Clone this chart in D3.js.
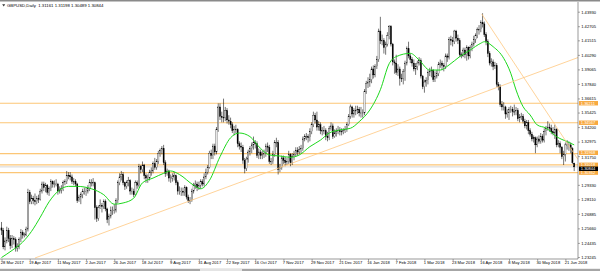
<!DOCTYPE html>
<html>
<head>
<meta charset="utf-8">
<script src="https://cdn.jsdelivr.net/npm/d3@7"></script>
<style>
  body { margin: 0; background: #fff; }
  svg { display: block; }
  text { font-family: "Liberation Sans", Arial, sans-serif; }
</style>
</head>
<body>
<div id="chart"></div>
<script>
const TITLE = "GBPUSD,Daily  1.31161 1.31198 1.30489 1.30844";

// x axis: one label every 16 daily bars
const dateLabels = ["28 Mar 2017", "19 Apr 2017", "11 May 2017", "2 Jun 2017", "26 Jun 2017", "18 Jul 2017",
  "9 Aug 2017", "31 Aug 2017", "22 Sep 2017", "16 Oct 2017", "7 Nov 2017", "29 Nov 2017", "21 Dec 2017",
  "16 Jan 2018", "7 Feb 2018", "1 Mar 2018", "23 Mar 2018", "16 Apr 2018", "8 May 2018", "30 May 2018", "21 Jun 2018"];
const dateLabelBars = [0, 16, 32, 48, 64, 80, 96, 112, 128, 144, 160, 176, 192, 208, 224, 240, 256, 272, 288, 304, 320];

// (1.30560 sits under the price tags, so it is not listed)
const priceTicks = [1.43930, 1.42705, 1.41515, 1.40290, 1.39065, 1.37840, 1.36615, 1.35425, 1.34200,
  1.32975, 1.31750, 1.29330, 1.28110, 1.26885, 1.25660, 1.24435, 1.23245];

// daily candles, 28 Mar 2017 .. 28 Jun 2018
const opens = [
  1.257,1.255,1.241,1.246,1.255,1.248,1.242,1.248,1.247,1.240,1.241,1.247,1.253,1.251,1.251,1.256,
  1.287,1.279,1.282,1.280,1.279,1.282,1.281,1.288,1.294,1.291,1.293,1.287,1.290,1.296,1.294,1.294,1.294,1.288,1.289,1.290,1.295,1.296,
  1.301,1.301,1.300,1.296,1.296,1.294,1.280,1.283,1.285,1.288,1.288,1.288,1.290,1.295,1.295,1.295,1.274,1.265,1.274,1.276,1.275,1.279,1.273,1.264,
  1.267,1.272,1.272,1.272,1.280,1.295,1.300,1.302,1.295,1.292,1.295,1.297,1.288,1.288,1.285,1.295,1.293,1.309,1.306,
  1.310,1.301,1.299,1.299,1.304,1.305,1.311,1.308,1.313,1.320,1.322,1.324,1.312,1.303,1.305,1.299,1.299,1.300,1.301,1.295,1.288,1.288,1.288,1.287,1.291,1.283,1.280,1.280,1.288,1.293,1.294,1.291,
  1.293,1.296,1.294,1.300,1.304,1.308,1.320,1.318,1.326,1.321,1.340,1.359,1.351,1.350,1.350,1.356,
  1.348,1.347,1.344,1.339,1.340,1.340,1.328,1.326,1.325,1.314,1.307,1.315,1.321,1.324,1.327,1.329,1.328,1.318,1.321,1.318,1.319,1.320,1.326,1.325,1.313,1.313,1.319,1.329,1.329,
  1.306,1.308,1.316,1.314,1.312,1.313,1.319,1.312,1.317,1.319,1.322,1.321,1.323,1.324,1.332,1.334,1.334,1.333,1.338,1.344,1.352,1.348,1.342,1.344,1.339,1.339,1.339,1.334,1.333,1.341,1.343,1.334,1.337,1.338,1.339,
  1.338,1.338,1.339,1.340,1.344,1.351,1.359,1.353,1.356,1.356,1.357,1.354,1.354,1.354,1.372,1.379,1.380,1.382,1.391,1.386,1.393,1.399,1.423,1.415,
  1.415,1.409,1.412,1.419,1.427,1.412,1.397,1.396,1.388,1.391,1.383,1.383,1.389,1.396,1.408,1.402,1.399,1.396,1.391,1.393,1.396,1.398,1.385,1.376,
  1.380,1.381,1.388,1.389,1.390,1.382,1.385,1.387,1.395,1.396,1.394,1.393,1.402,1.401,1.416,1.415,1.414,1.423,1.417,1.415,1.403,1.402,1.407,1.403,1.409,1.402,1.409,1.412,1.416,1.419,1.424,1.424,
  1.430,1.429,1.420,1.414,1.404,1.396,1.397,1.393,1.394,1.378,1.376,1.361,1.359,1.359,1.353,1.354,1.357,1.357,1.355,1.355,1.356,1.349,1.350,1.351,1.347,1.343,1.346,1.339,1.336,1.332,1.333,1.327,
  1.332,1.330,1.334,1.331,1.338,1.341,1.342,1.341,1.338,1.337,1.340,1.327,1.328,1.325,1.317,1.319,1.327,1.327,1.327,1.324,1.31161
];
const highs = [
  1.262,1.257,1.249,1.258,1.257,1.251,1.251,1.250,1.249,1.244,1.249,1.256,1.255,1.253,1.258,1.290,
  1.289,1.285,1.284,1.286,1.284,1.285,1.290,1.296,1.296,1.295,1.294,1.292,1.298,1.297,1.297,1.298,1.295,1.292,1.293,1.297,1.298,1.305,
  1.304,1.304,1.302,1.299,1.298,1.295,1.285,1.287,1.290,1.291,1.291,1.293,1.298,1.298,1.299,1.296,1.276,1.276,1.281,1.278,1.281,1.281,1.274,1.269,
  1.275,1.275,1.277,1.282,1.297,1.303,1.305,1.304,1.296,1.297,1.300,1.298,1.291,1.290,1.297,1.297,1.311,1.310,1.313,
  1.311,1.303,1.302,1.306,1.308,1.313,1.316,1.315,1.322,1.324,1.326,1.327,1.314,1.307,1.306,1.302,1.303,1.304,1.302,1.297,1.292,1.291,1.291,1.293,1.292,1.285,1.283,1.290,1.295,1.297,1.296,1.296,
  1.298,1.298,1.303,1.307,1.310,1.322,1.323,1.328,1.328,1.342,1.362,1.362,1.355,1.366,1.359,1.358,
  1.352,1.350,1.346,1.343,1.344,1.341,1.330,1.329,1.327,1.316,1.317,1.323,1.326,1.329,1.334,1.331,1.330,1.324,1.323,1.322,1.323,1.328,1.329,1.327,1.316,1.322,1.331,1.333,1.331,
  1.311,1.318,1.318,1.317,1.316,1.322,1.320,1.320,1.322,1.325,1.325,1.326,1.327,1.334,1.336,1.337,1.336,1.341,1.346,1.355,1.354,1.355,1.347,1.346,1.342,1.343,1.341,1.338,1.343,1.346,1.345,1.340,1.341,1.343,1.342,
  1.341,1.341,1.343,1.346,1.353,1.361,1.360,1.358,1.360,1.360,1.359,1.359,1.357,1.374,1.381,1.384,1.387,1.393,1.394,1.395,1.402,1.425,1.435,1.420,
  1.417,1.414,1.422,1.428,1.428,1.413,1.399,1.403,1.395,1.393,1.387,1.391,1.398,1.410,1.414,1.404,1.401,1.399,1.396,1.398,1.401,1.400,1.386,1.382,
  1.384,1.390,1.392,1.393,1.391,1.389,1.390,1.397,1.399,1.398,1.396,1.404,1.404,1.418,1.419,1.418,1.424,1.424,1.420,1.417,1.405,1.409,1.409,1.411,1.410,1.411,1.414,1.419,1.421,1.426,1.428,1.432,
  1.438,1.431,1.422,1.416,1.406,1.400,1.399,1.397,1.396,1.380,1.378,1.364,1.363,1.360,1.357,1.359,1.360,1.359,1.361,1.359,1.358,1.353,1.354,1.353,1.349,1.348,1.348,1.341,1.338,1.335,1.334,1.334,
  1.335,1.337,1.336,1.341,1.343,1.347,1.345,1.344,1.342,1.344,1.341,1.331,1.330,1.326,1.322,1.329,1.331,1.330,1.329,1.325,1.31198
];
const lows = [
  1.251,1.239,1.238,1.244,1.245,1.239,1.240,1.243,1.237,1.237,1.239,1.245,1.248,1.249,1.250,1.254,
  1.277,1.277,1.277,1.276,1.277,1.278,1.280,1.286,1.288,1.287,1.285,1.284,1.288,1.291,1.291,1.292,1.285,1.286,1.286,1.288,1.293,1.294,
  1.298,1.297,1.294,1.293,1.292,1.278,1.279,1.277,1.282,1.285,1.284,1.286,1.288,1.292,1.292,1.264,1.262,1.263,1.273,1.270,1.273,1.271,1.261,1.259,
  1.265,1.268,1.269,1.270,1.278,1.293,1.297,1.293,1.289,1.290,1.292,1.285,1.285,1.283,1.284,1.290,1.291,1.303,1.304,
  1.298,1.295,1.295,1.297,1.301,1.303,1.306,1.306,1.311,1.317,1.319,1.310,1.300,1.301,1.296,1.295,1.296,1.297,1.293,1.285,1.285,1.284,1.284,1.284,1.281,1.278,1.277,1.279,1.286,1.290,1.288,1.289,
  1.290,1.292,1.292,1.298,1.302,1.307,1.315,1.315,1.318,1.319,1.338,1.348,1.346,1.346,1.347,1.345,
  1.344,1.341,1.337,1.335,1.337,1.325,1.323,1.321,1.311,1.303,1.305,1.312,1.318,1.320,1.323,1.324,1.316,1.315,1.315,1.315,1.316,1.317,1.321,1.311,1.310,1.311,1.317,1.325,1.302,
  1.304,1.306,1.311,1.309,1.310,1.311,1.309,1.310,1.314,1.317,1.318,1.319,1.320,1.322,1.330,1.331,1.329,1.330,1.336,1.342,1.345,1.339,1.339,1.336,1.335,1.336,1.331,1.330,1.331,1.339,1.332,1.333,1.334,1.336,1.335,
  1.335,1.336,1.337,1.338,1.343,1.349,1.350,1.350,1.352,1.353,1.351,1.350,1.350,1.352,1.370,1.375,1.376,1.379,1.383,1.384,1.391,1.397,1.412,1.411,
  1.404,1.403,1.410,1.416,1.410,1.394,1.387,1.386,1.385,1.377,1.380,1.378,1.381,1.394,1.400,1.396,1.393,1.389,1.386,1.390,1.394,1.383,1.374,1.371,
  1.376,1.378,1.385,1.384,1.380,1.380,1.383,1.385,1.392,1.390,1.389,1.391,1.397,1.399,1.411,1.410,1.412,1.414,1.412,1.401,1.400,1.401,1.400,1.398,1.399,1.400,1.406,1.410,1.413,1.417,1.420,1.422,
  1.426,1.418,1.411,1.401,1.394,1.393,1.390,1.391,1.376,1.373,1.359,1.356,1.356,1.349,1.350,1.348,1.354,1.351,1.352,1.352,1.347,1.346,1.348,1.345,1.341,1.340,1.336,1.334,1.330,1.329,1.320,1.325,
  1.328,1.328,1.329,1.329,1.335,1.339,1.338,1.336,1.335,1.332,1.325,1.325,1.320,1.315,1.310,1.313,1.323,1.322,1.320,1.311,1.30489
];
const closes = [
  1.255,1.241,1.246,1.255,1.248,1.242,1.248,1.247,1.240,1.241,1.247,1.253,1.251,1.251,1.256,1.287,
  1.279,1.282,1.280,1.279,1.282,1.281,1.288,1.294,1.291,1.293,1.287,1.290,1.296,1.294,1.294,1.294,1.288,1.289,1.290,1.295,1.296,1.301,
  1.301,1.300,1.296,1.296,1.294,1.280,1.283,1.285,1.288,1.288,1.288,1.290,1.295,1.295,1.295,1.274,1.265,1.274,1.276,1.275,1.279,1.273,1.264,1.267,
  1.272,1.272,1.272,1.280,1.295,1.300,1.302,1.295,1.292,1.295,1.297,1.288,1.288,1.285,1.295,1.293,1.309,1.306,1.310,
  1.301,1.299,1.299,1.304,1.305,1.311,1.308,1.313,1.320,1.322,1.324,1.312,1.303,1.305,1.299,1.299,1.300,1.301,1.295,1.288,1.288,1.288,1.287,1.291,1.283,1.280,1.280,1.288,1.293,1.294,1.291,1.293,
  1.296,1.294,1.300,1.304,1.308,1.320,1.318,1.326,1.321,1.340,1.359,1.351,1.350,1.350,1.356,1.348,
  1.347,1.344,1.339,1.340,1.340,1.328,1.326,1.325,1.314,1.307,1.315,1.321,1.324,1.327,1.329,1.328,1.318,1.321,1.318,1.319,1.320,1.326,1.325,1.313,1.313,1.319,1.329,1.329,1.306,
  1.308,1.316,1.314,1.312,1.313,1.319,1.312,1.317,1.319,1.322,1.321,1.323,1.324,1.332,1.334,1.334,1.333,1.338,1.344,1.352,1.348,1.342,1.344,1.339,1.339,1.339,1.334,1.333,1.341,1.343,1.334,1.337,1.338,1.339,1.338,
  1.338,1.339,1.340,1.344,1.351,1.359,1.353,1.356,1.356,1.357,1.354,1.354,1.354,1.372,1.379,1.380,1.382,1.391,1.386,1.393,1.399,1.423,1.415,1.415,
  1.409,1.412,1.419,1.427,1.412,1.397,1.396,1.388,1.391,1.383,1.383,1.389,1.396,1.408,1.402,1.399,1.396,1.391,1.393,1.396,1.398,1.385,1.376,1.380,
  1.381,1.388,1.389,1.390,1.382,1.385,1.387,1.395,1.396,1.394,1.393,1.402,1.401,1.416,1.415,1.414,1.423,1.417,1.415,1.403,1.402,1.407,1.403,1.409,1.402,1.409,1.412,1.416,1.419,1.424,1.424,1.430,
  1.429,1.420,1.414,1.404,1.396,1.397,1.393,1.394,1.378,1.376,1.361,1.359,1.359,1.353,1.354,1.357,1.357,1.355,1.355,1.356,1.349,1.350,1.351,1.347,1.343,1.346,1.339,1.336,1.332,1.333,1.327,1.332,
  1.330,1.334,1.331,1.338,1.341,1.342,1.341,1.338,1.337,1.340,1.327,1.328,1.325,1.317,1.319,1.327,1.327,1.327,1.324,1.312,1.30844
];

// green moving average, read at a few bars
const maBars = [0, 6, 12, 17, 22, 27, 33, 38, 43, 51, 58, 64, 69, 75, 80, 86, 92, 96, 101, 109, 113, 118, 124,
  130, 135, 141, 147, 152, 158, 164, 169, 175, 181, 186, 192, 198, 203, 209, 215, 220, 224, 232, 237, 243, 249,
  254, 260, 266, 272, 274, 279, 285, 289, 292, 296, 300, 304, 309, 315, 321, 325];
const maValues = [1.232, 1.238, 1.245, 1.254, 1.266, 1.279, 1.289, 1.292, 1.292, 1.290, 1.285, 1.277, 1.278, 1.282,
  1.295, 1.299, 1.303, 1.305, 1.302, 1.293, 1.290, 1.297, 1.317, 1.333, 1.337, 1.334, 1.324, 1.3185, 1.3176,
  1.3165, 1.3185, 1.3255, 1.331, 1.337, 1.3396, 1.341, 1.3466, 1.3564, 1.3735, 1.3955, 1.4014, 1.4042, 1.3986,
  1.3901, 1.3901, 1.3944, 1.4014, 1.4070, 1.4127, 1.4140, 1.4098, 1.4000, 1.3874, 1.3733, 1.3592, 1.3522,
  1.3438, 1.3412, 1.3339, 1.3297, 1.3270];

// horizontal levels drawn on the chart
const levels = [1.36211, 1.34567, 1.31968, 1.31018, 1.30362];
const lastPrice = 1.30844;

// trend lines: [bar, price] anchors
const trendUpBars = [19, 328];
const trendUpPrices = [1.2316, 1.4011];
const trendDownBars = [272.5, 327.2];
const trendDownPrices = [1.4374, 1.3146];

var width = 600,
    height = 271;
var plotRight = 578, plotTop = 2, plotBottom = 259;

var svg = d3.select("#chart").append("svg")
  .attr("width", width)
  .attr("height", height);

const x = d3.scaleLinear().domain([0, 325]).range([1.5, 574.2]);
const y = d3.scaleLinear().domain([1.23245, 1.43930]).range([257, 11.7]);

svg.append("defs").append("clipPath").attr("id", "plot")
  .append("rect").attr("x", 0).attr("y", plotTop).attr("width", plotRight).attr("height", plotBottom - plotTop);

var plot = svg.append("g").attr("clip-path", "url(#plot)");

// bid line
plot.append("line")
  .attr("x1", 0).attr("x2", plotRight)
  .attr("y1", y(lastPrice)).attr("y2", y(lastPrice))
  .attr("stroke", "#c4c4c4").attr("stroke-width", 0.7);

// levels
plot.selectAll(".level").data(levels).join("line")
  .attr("class", "level")
  .attr("x1", 0).attr("x2", plotRight)
  .attr("y1", d => y(d)).attr("y2", d => y(d))
  .attr("stroke", "#fcc676").attr("stroke-width", 1.2);

// candles
const bars = d3.range(closes.length);
plot.selectAll(".wick").data(bars).join("line")
  .attr("class", "wick")
  .attr("x1", i => x(i)).attr("x2", i => x(i))
  .attr("y1", i => y(highs[i])).attr("y2", i => y(lows[i]))
  .attr("stroke", "#000").attr("stroke-width", 0.55);

plot.selectAll(".body").data(bars).join("rect")
  .attr("class", "body")
  .attr("x", i => x(i) - 0.6)
  .attr("width", 1.2)
  .attr("y", i => y(Math.max(opens[i], closes[i])))
  .attr("height", i => Math.max(0.5, Math.abs(y(opens[i]) - y(closes[i]))))
  .attr("fill", i => closes[i] >= opens[i] ? "#fff" : "#000")
  .attr("stroke", "#000").attr("stroke-width", 0.3);

// moving average
const ma = maBars.map((b, i) => ({ b: b, v: maValues[i] }));
plot.append("path")
  .datum(ma)
  .attr("fill", "none")
  .attr("stroke", "#1cd81c")
  .attr("stroke-width", 1)
  .attr("d", d3.line().x(d => x(d.b)).y(d => y(d.v)).curve(d3.curveMonotoneX));

// trend lines
[[trendUpBars, trendUpPrices], [trendDownBars, trendDownPrices]].forEach(t => {
  plot.append("line")
    .attr("x1", x(t[0][0])).attr("y1", y(t[1][0]))
    .attr("x2", x(t[0][1])).attr("y2", y(t[1][1]))
    .attr("stroke", "#ffc880").attr("stroke-width", 0.8);
});

// frame
svg.append("rect").attr("x", 0).attr("y", 0).attr("width", width).attr("height", 1.5).attr("fill", "#8a8a8a");
svg.append("line").attr("x1", plotRight).attr("x2", plotRight).attr("y1", plotTop).attr("y2", plotBottom)
  .attr("stroke", "#555").attr("stroke-width", 0.6);
svg.append("line").attr("x1", 0).attr("x2", plotRight).attr("y1", plotBottom).attr("y2", plotBottom)
  .attr("stroke", "#555").attr("stroke-width", 0.6);
svg.append("rect").attr("x", 0).attr("y", 268.8).attr("width", width).attr("height", 2.2).attr("fill", "#a6a6a6");
svg.append("rect").attr("x", 200).attr("y", 268.8).attr("width", 42).attr("height", 2.2).attr("fill", "#e4e4e4");

// price axis
var yAxis = svg.append("g")
  .attr("transform", "translate(" + plotRight + ",0)")
  .call(d3.axisRight(y).tickValues(priceTicks).tickSize(2).tickPadding(1.2).tickFormat(d3.format(".5f")));
yAxis.select(".domain").remove();
yAxis.selectAll("line").attr("stroke", "#555").attr("stroke-width", 0.5);
yAxis.selectAll("text").attr("font-size", "4.1px").attr("fill", "#000").attr("font-family", "Liberation Sans, Arial, sans-serif");
// the 1.31750 label sits just under the 1.31968 tag in the original
yAxis.selectAll(".tick").filter(d => d === 1.31750).select("text").attr("dy", "0.62em");

// price tags on the axis
function tag(price, fill, shift) {
  var g = svg.append("g").attr("transform", "translate(" + (plotRight + 1) + "," + (y(price) + shift) + ")");
  g.append("rect").attr("x", 0).attr("y", -2.2).attr("width", 19).attr("height", 4.4).attr("fill", fill);
  g.append("text").attr("x", 1.8).attr("dy", "0.35em").attr("font-size", "4.0px").attr("fill", "#fff")
    .text(d3.format(".5f")(price));
}
levels.forEach((l, i) => tag(l, "#f8a93e", i === 2 ? -0.8 : 0));
tag(lastPrice, "#000", 1.9);

// date axis
var xAxis = svg.append("g")
  .attr("transform", "translate(0," + plotBottom + ")")
  .call(d3.axisBottom(x).tickValues(dateLabelBars).tickSize(2).tickFormat((d, i) => dateLabels[i]));
xAxis.select(".domain").remove();
xAxis.selectAll("line").attr("stroke", "#555").attr("stroke-width", 0.5);
xAxis.selectAll("text")
  .attr("text-anchor", "start")
  .attr("x", -1.2)
  .attr("y", 3.5)
  .attr("dy", "0.32em")
  .attr("font-size", "4.1px").attr("fill", "#000").attr("font-family", "Liberation Sans, Arial, sans-serif");

// header
svg.append("path").attr("d", "M2.2,4.2 L5.2,4.2 L3.7,6.4 Z").attr("fill", "#333");
svg.append("text").attr("x", 7).attr("y", 5.4).attr("dy", "0.32em")
  .attr("font-size", "4.3px").attr("fill", "#000")
  .attr("xml:space", "preserve").style("white-space", "pre")
  .text(TITLE);
</script>
</body>
</html>
